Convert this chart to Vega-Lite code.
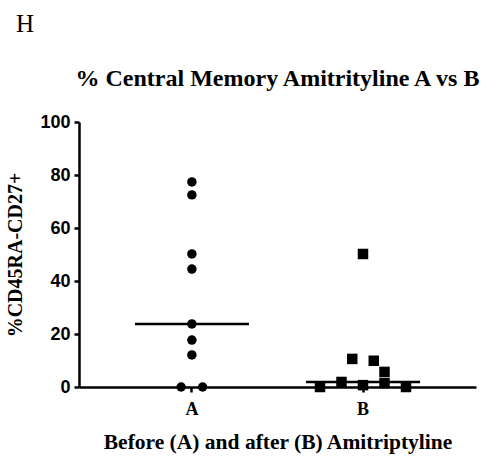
{
  "$schema": "https://vega.github.io/schema/vega-lite/v6.json",
  "padding": {"left": 5, "top": 12, "right": 5, "bottom": 5},
  "title": {"text": "H", "anchor": "start", "frame": "bounds", "font": "Liberation Serif", "fontSize": 25, "fontWeight": "normal", "color": "black", "offset": 30, "dx": 10},
  "config": {
    "view": {"stroke": null},
    "axis": {"domainColor": "black", "domainWidth": 2.5, "tickColor": "black", "tickWidth": 2.5, "tickSize": 5, "grid": false, "labelColor": "black", "titleColor": "black"}
  },
  "data": {"values": [
    {"group": "A", "value": 77.4, "slot": 0},
    {"group": "A", "value": 72.5, "slot": 0},
    {"group": "A", "value": 50.2, "slot": 0},
    {"group": "A", "value": 44.5, "slot": 0},
    {"group": "A", "value": 23.8, "slot": 0},
    {"group": "A", "value": 17.7, "slot": 0},
    {"group": "A", "value": 12.1, "slot": 0},
    {"group": "A", "value": 0, "slot": -1},
    {"group": "A", "value": 0, "slot": 1},
    {"group": "B", "value": 50.2, "slot": 0},
    {"group": "B", "value": 10.6, "slot": -1},
    {"group": "B", "value": 9.9, "slot": 1},
    {"group": "B", "value": 5.7, "slot": 2},
    {"group": "B", "value": 1.5, "slot": 2},
    {"group": "B", "value": 1.9, "slot": -2},
    {"group": "B", "value": 0, "slot": -4},
    {"group": "B", "value": 0.7, "slot": 0},
    {"group": "B", "value": 0, "slot": 4}
  ]},
  "vconcat": [
    {
      "width": 397,
      "height": 265,
      "title": {"text": "% Central Memory Amitrityline A vs B", "font": "Liberation Serif", "fontSize": 24, "fontWeight": "bold", "color": "black", "offset": 22},
      "layer": [
        {
          "mark": {"type": "tick", "size": 114, "thickness": 2.5, "color": "black"},
          "encoding": {
            "x": {"field": "group", "type": "nominal"},
            "y": {"field": "value", "type": "quantitative", "aggregate": "median"}
          }
        },
        {
          "mark": {"type": "point", "filled": true, "opacity": 1, "color": "black"},
          "encoding": {
            "x": {"field": "group", "type": "nominal"},
            "xOffset": {"field": "slot", "type": "quantitative", "scale": {"domain": [-4, 4], "range": [42.5, 128.5]}},
            "y": {"field": "value", "type": "quantitative"},
            "shape": {"field": "group", "type": "nominal", "scale": {"domain": ["A", "B"], "range": ["circle", "square"]}, "legend": null},
            "size": {"field": "group", "type": "nominal", "scale": {"domain": ["A", "B"], "range": [90, 110]}, "legend": null}
          }
        }
      ],
      "encoding": {
        "x": {"field": "group", "type": "nominal", "scale": {"type": "band", "paddingInner": 0, "paddingOuter": 0.16},
          "axis": {"title": "Before (A) and after (B) Amitriptyline", "labelAngle": 0, "labelFont": "Liberation Serif", "labelFontSize": 18, "labelFontWeight": "bold", "labelPadding": 8, "titleFont": "Liberation Serif", "titleFontSize": 21.5, "titleFontWeight": "bold", "titlePadding": 13}},
        "y": {"type": "quantitative", "scale": {"domain": [0, 100], "nice": false},
          "axis": {"title": "%CD45RA-CD27+", "values": [0, 20, 40, 60, 80, 100], "labelFont": "Liberation Sans", "labelFontSize": 18, "labelFontWeight": "bold", "labelPadding": 4, "titleFont": "Liberation Serif", "titleFontSize": 20, "titleFontWeight": "bold", "titlePadding": 14}}
      }
    }
  ]
}
